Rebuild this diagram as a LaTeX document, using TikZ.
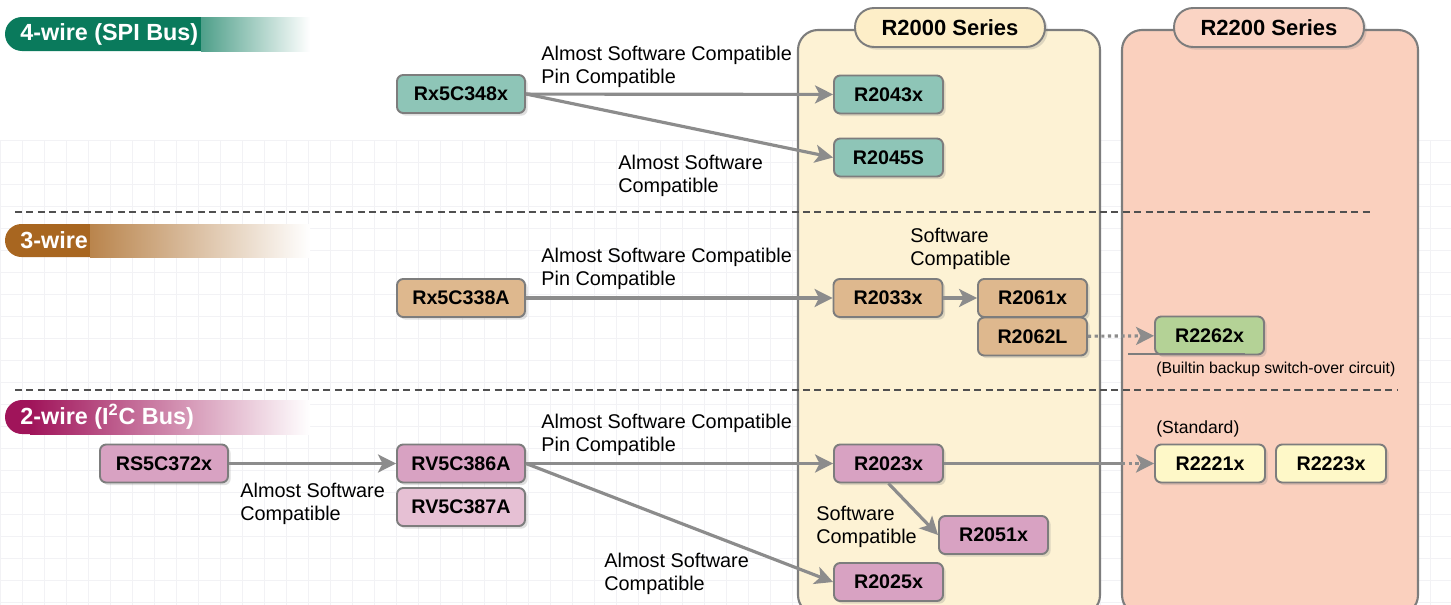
\documentclass[tikz,border=0pt]{standalone}
\usepackage{fontspec}
\setmainfont{Liberation Sans}
\usetikzlibrary{arrows.meta,shadows}
\definecolor{hgreen}{RGB}{10,122,92}
\definecolor{hbrown}{RGB}{168,102,32}
\definecolor{hmag}{RGB}{160,20,90}
\definecolor{cteal}{RGB}{142,197,183}
\definecolor{ctan}{RGB}{222,184,142}
\definecolor{cpink}{RGB}{216,162,194}
\definecolor{cpinkl}{RGB}{230,192,212}
\definecolor{cgreen}{RGB}{180,210,150}
\definecolor{cyel}{RGB}{254,248,200}
\definecolor{pA}{RGB}{253,242,212}
\definecolor{pAtab}{RGB}{253,238,200}
\definecolor{pB}{RGB}{250,208,190}
\definecolor{pBtab}{RGB}{250,212,196}
\definecolor{bord}{RGB}{125,125,125}
\definecolor{arrg}{RGB}{140,140,140}
\definecolor{gridc}{RGB}{242,242,245}
\tikzset{
  chip/.style={draw=bord, line width=1.1pt, rounded corners=3.5pt,
    minimum width=2.18cm, minimum height=0.76cm, inner sep=0pt,
    font=\fontsize{11.2}{13}\selectfont\bfseries,
    drop shadow={shadow xshift=1.5pt, shadow yshift=-1.5pt, opacity=0.25}},
  widechip/.style={chip, minimum width=2.56cm},
  lab/.style={anchor=north west, inner sep=0pt, align=left, font=\fontsize{11.3}{12.8}\selectfont},
  small/.style={anchor=north west, inner sep=0pt, font=\fontsize{9}{11}\selectfont},
  conn/.style={draw=arrg, line width=1.8pt},
  arr/.style={conn, -{Stealth[length=0.36cm, width=0.36cm, inset=0.09cm]}},
  arrdot/.style={arr, dotted},
  tab/.style={draw=bord, line width=1.1pt, rounded corners=0.38cm,
    minimum width=3.8cm, minimum height=0.78cm, inner sep=0pt,
    font=\fontsize{12.5}{14}\selectfont\bfseries,
    drop shadow={shadow xshift=1.5pt, shadow yshift=-1.5pt, opacity=0.25}},
  head/.style={anchor=west, inner sep=0pt, text=white, font=\fontsize{13.3}{15}\selectfont\bfseries},
  sep/.style={draw={rgb,255:red,80;green,80;blue,80}, line width=1pt, dash pattern=on 4pt off 2.5pt}
}
\begin{document}
\begin{tikzpicture}[x=0.02cm, y=-0.02cm]
\useasboundingbox (0,0) rectangle (1451,605);
\fill[white] (0,0) rectangle (1451,605);
% faint background grid
\foreach \gx in {0,22,...,1451} \draw[gridc, line width=0.4pt] (\gx,140) -- (\gx,605);
\foreach \gy in {140,162,...,605} \draw[gridc, line width=0.4pt] (0,\gy) -- (1451,\gy);

% series panels
\draw[fill=pA, draw=bord, line width=1.2pt, rounded corners=0.4cm] (798,615) rectangle (1100,30);
\draw[fill=pB, draw=bord, line width=1.2pt, rounded corners=0.4cm] (1122,615) rectangle (1418,30);
\node[tab, fill=pAtab] (tA) at (950,27.5) {R2000 Series};
\node[tab, fill=pBtab] (tB) at (1269,27.5) {R2200 Series};

% header bars
\fill[hgreen, rounded corners=0.34cm] (5,17) rectangle (230,51);
\shade[left color=hgreen!72!white, right color=white] (201,17) rectangle (310,51);
\node[head] (h4) at (20,34) {4-wire (SPI Bus)};

\fill[hbrown, rounded corners=0.33cm] (5,224) rectangle (120,257);
\shade[left color=hbrown!80!white, right color=white] (90,224) rectangle (310,257);
\node[head] (h3) at (20,240.5) {3-wire};

\fill[hmag, rounded corners=0.34cm] (5,400) rectangle (60,434);
\shade[left color=hmag, right color=white] (30,400) rectangle (310,434);
\node[head] (h2) at (20,417) {2-wire (I\textsuperscript{2}C Bus)};

% separators
\draw[sep] (15,212) -- (1370,212);
\draw[sep] (15,390) -- (1397,390);

% nodes
\node[widechip, fill=cteal] (Rx5C348x) at (461,94) {Rx5C348x};
\node[chip, fill=cteal] (R2043x) at (888.5,94.5) {R2043x};
\node[chip, fill=cteal] (R2045S) at (888.5,157.5) {R2045S};

\node[widechip, fill=ctan] (Rx5C338A) at (461,298) {Rx5C338A};
\node[chip, fill=ctan] (R2033x) at (888,298) {R2033x};
\node[chip, fill=ctan] (R2061x) at (1032.5,298) {R2061x};
\node[chip, fill=ctan] (R2062L) at (1032.5,336.5) {R2062L};
\node[chip, fill=cgreen] (R2262x) at (1209.5,335.5) {R2262x};

\node[widechip, fill=cpink] (RS5C372x) at (164,463.5) {RS5C372x};
\node[widechip, fill=cpink] (RV5C386A) at (461,463.5) {RV5C386A};
\node[widechip, fill=cpinkl] (RV5C387A) at (461,507) {RV5C387A};
\node[chip, fill=cpink] (R2023x) at (888.5,463.5) {R2023x};
\node[chip, fill=cpink] (R2051x) at (993.5,535) {R2051x};
\node[chip, fill=cpink] (R2025x) at (888.5,582) {R2025x};
\node[chip, fill=cyel, minimum width=2.2cm] (R2221x) at (1210,463.5) {R2221x};
\node[chip, fill=cyel, minimum width=2.2cm] (R2223x) at (1331,463.5) {R2223x};

% connectors
\draw[arr] (Rx5C348x) -- (R2043x);
\draw[arr] (Rx5C348x.east) -- (R2045S.west);
\draw[arr] (Rx5C338A) -- (R2033x);
\draw[arr] (R2033x) -- (R2061x);
\draw[arrdot] (R2062L) -- (R2262x);
\draw[arr] (RS5C372x) -- (RV5C386A);
\draw[arr] (RV5C386A) -- (R2023x);
\draw[arr] (RV5C386A.east) -- (R2025x.west);
\draw[arr] (R2023x.south) -- (R2051x.west);
\coordinate (mid) at (1122,463.5);
\draw[conn] (R2023x) -- (mid);
\draw[arrdot] (mid) -- (R2221x);
\coordinate (ulA) at (1128,354);
\coordinate (ulB) at (1245,354);
\draw[draw=bord, line width=1pt] (ulA) -- (ulB);

% labels
\node[lab] (l1) at (541,46) {Almost Software Compatible\\Pin Compatible};
\node[lab] (l2) at (618,155) {Almost Software\\Compatible};
\node[lab] (l3) at (541,248) {Almost Software Compatible\\Pin Compatible};
\node[lab] (l4) at (910,228) {Software\\Compatible};
\node[lab] (l5) at (541,414) {Almost Software Compatible\\Pin Compatible};
\node[lab] (l6) at (240,483) {Almost Software\\Compatible};
\node[lab] (l7) at (816,506) {Software\\Compatible};
\node[lab] (l8) at (604,553) {Almost Software\\Compatible};
\node[small, font=\fontsize{10}{12}\selectfont] (std) at (1156,420) {(Standard)};
\node[small] (bbk) at (1156,362) {(Builtin backup switch-over circuit)};
\end{tikzpicture}
\end{document}
